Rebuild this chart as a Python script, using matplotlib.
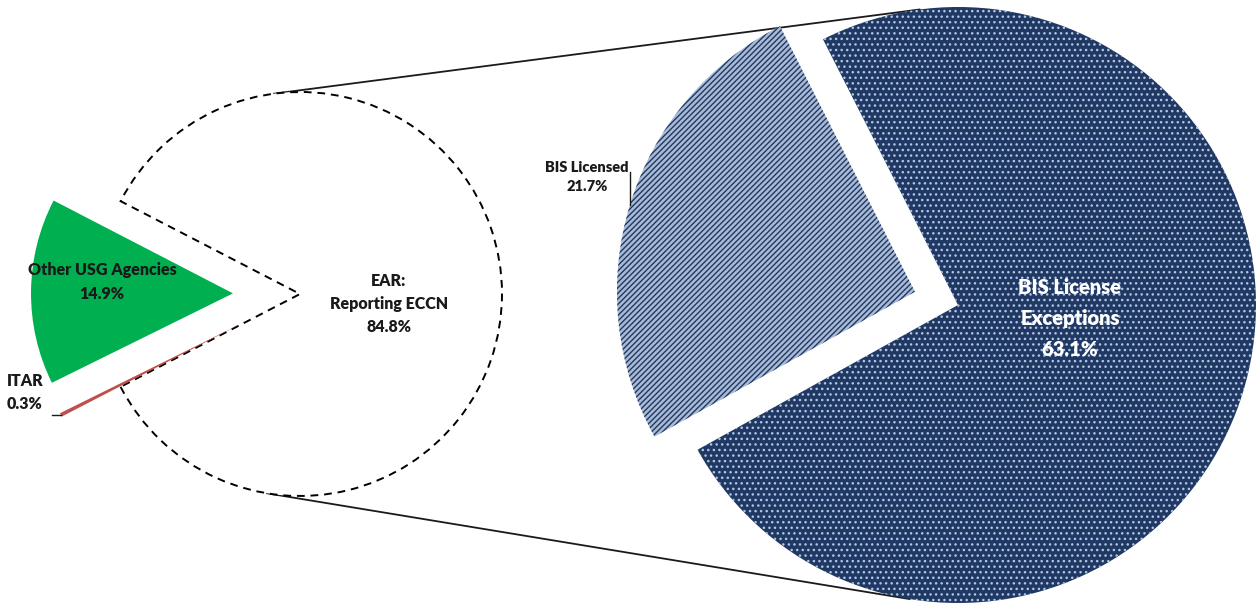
import numpy as np
import matplotlib.pyplot as plt

# first pie: share of reported exports by jurisdiction
main_labels = ["EAR:\nReporting ECCN", "Other USG Agencies", "ITAR"]
main_values = [84.8, 14.9, 0.3]

# second pie: breakdown of the EAR slice
sub_labels = ["BIS License\nExceptions", "BIS Licensed"]
sub_values = [63.1, 21.7]

NAVY = "#1f3864"
GREEN = "#00b050"
RED = "#c0504d"
TEXT = "#1a1a1a"

plt.rcParams['font.family'] = ['Lato', 'DejaVu Sans']
plt.rcParams['hatch.linewidth'] = 1.0

fig = plt.figure(figsize=(12.57, 6.05), dpi=100)
ax = fig.add_axes([0, 0, 1, 1])

# --- left pie (the EAR slice faces the second pie) ---
left_c = np.array([300.0, 311.0])
left_r = 202.0
ear_frac = main_values[0] / sum(main_values)
left_start = 180 + (1 - ear_frac) * 180

wl, _ = ax.pie(main_values, radius=left_r, center=left_c, startangle=left_start,
               explode=[0, 67, 66], colors=["white", GREEN, RED],
               wedgeprops=dict(linewidth=0))
wl[0].set_edgecolor("black")
wl[0].set_linewidth(1.4)
wl[0].set_linestyle((0, (4, 3)))

# --- right pie ---
right_c = np.array([958.0, 300.0])
right_r = 298.0
lic_deg = sub_values[1] / sum(sub_values) * 360
right_start = 163 - (360 - lic_deg / 2)

wr, _ = ax.pie(sub_values, radius=right_r, center=right_c, startangle=right_start,
               explode=[0, 45], colors=[NAVY, "#a9bad4"],
               wedgeprops=dict(linewidth=0))
wr[0].set_hatch("...")
wr[0].set_edgecolor("#b4c6de")
wr[0].set_linewidth(0)
wr[1].set_hatch("//////")
wr[1].set_edgecolor(NAVY)
wr[1].set_linewidth(0)

# connector lines: outer tangents between the two circles
d = right_c - left_c
base = np.arctan2(d[1], d[0])
phi = np.arccos((left_r - right_r) / np.hypot(d[0], d[1]))
for s in (1, -1):
    a = base + s * phi
    u = np.array([np.cos(a), np.sin(a)])
    p1 = left_c + left_r * u
    p2 = right_c + right_r * u
    ax.plot([p1[0], p2[0]], [p1[1], p2[1]], color="#1a1a1a", lw=1.3, zorder=0)


def arc_mid(w):
    t = np.deg2rad((w.theta1 + w.theta2) / 2)
    return np.array(w.center) + w.r * np.array([np.cos(t), np.sin(t)])


lab = dict(fontweight="heavy", color=TEXT, linespacing=1.55)

# labels
ax.text(389, 301, f"{main_labels[0]}\n{main_values[0]:.1f}%", ha="center", va="center",
        fontsize=11.5, **lab)
ax.text(102, 323, f"{main_labels[1]}\n{main_values[1]:.1f}%", ha="center", va="center",
        fontsize=11.5, **lab)

itar = arc_mid(wl[2])
ax.plot([itar[0], itar[0] - 9], [itar[1], itar[1]], color="#1a1a1a", lw=1)
ax.text(7, itar[1] + 3, f"{main_labels[2]}\n{main_values[2]:.1f}%", ha="left", va="bottom",
        fontsize=11.5, **lab)

lic = arc_mid(wr[1])
ax.plot([lic[0], lic[0]], [lic[1], lic[1] + 33], color="#1a1a1a", lw=1)
ax.text(587, 428, f"{sub_labels[1]}\n{sub_values[1]:.1f}%", ha="center", va="center",
        fontsize=10.5, **lab)

ax.text(1070, 286, f"{sub_labels[0]}\n{sub_values[0]:.1f}%", ha="center", va="center",
        fontsize=14.5, fontweight="heavy", color="white", linespacing=1.75)

ax.set_aspect("equal")
ax.set_xlim(0, 1257)
ax.set_ylim(0, 605)
ax.axis("off")

fig.savefig("out.png", dpi=100)
